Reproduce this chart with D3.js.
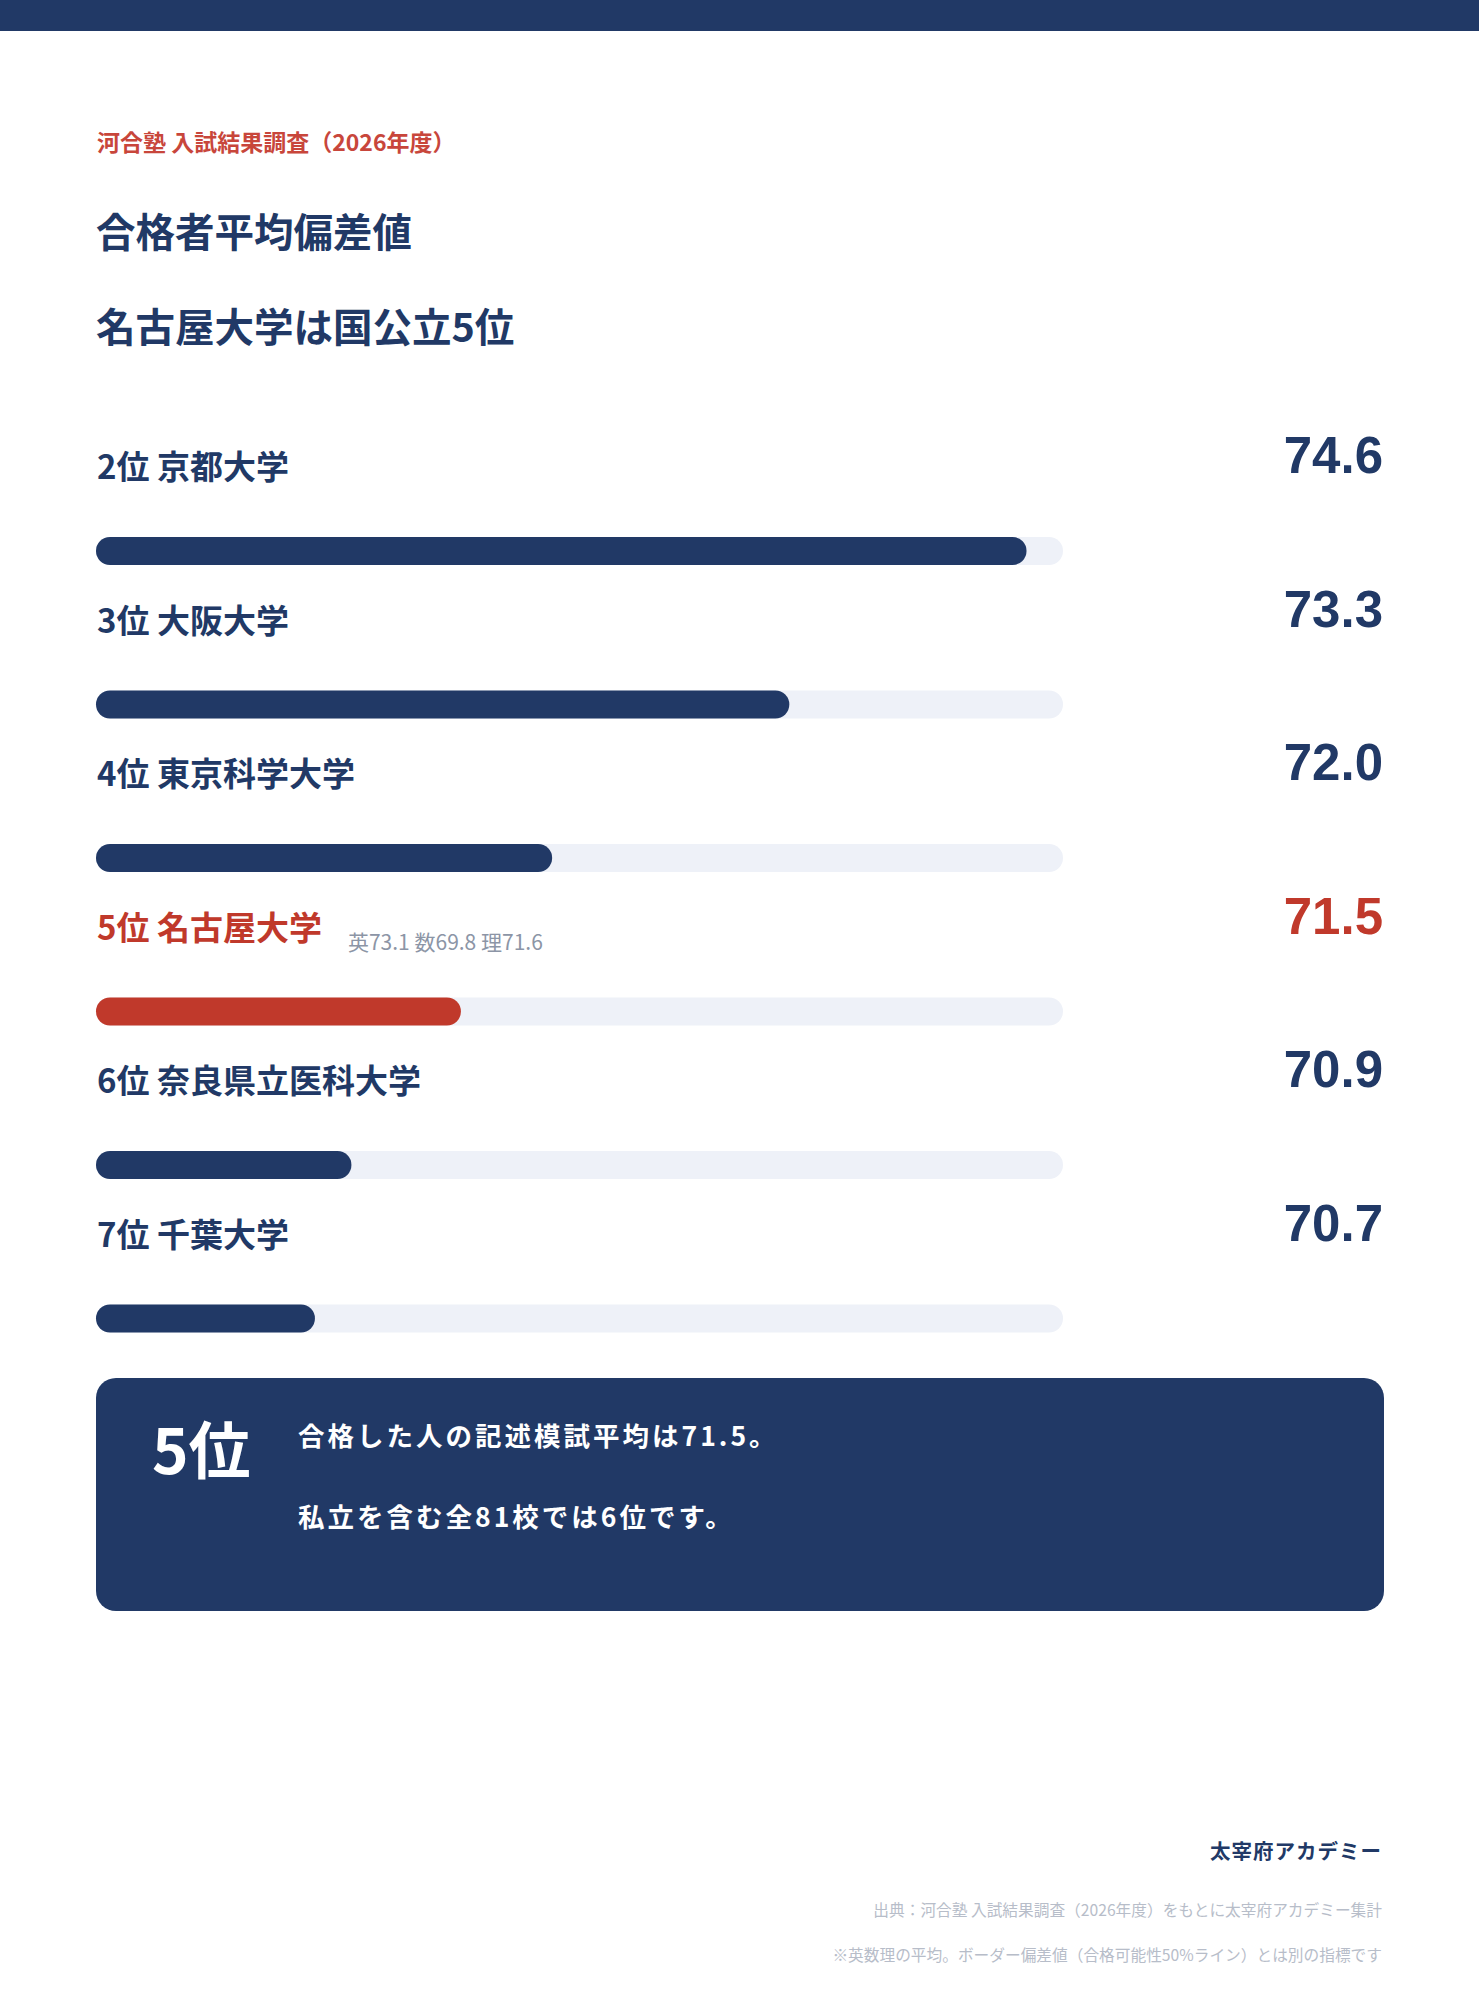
<!DOCTYPE html>
<html lang="ja">
<head>
<meta charset="utf-8">
<script src="https://cdn.jsdelivr.net/npm/d3@7"></script>
<style>
  html, body { margin: 0; padding: 0; background: #ffffff; }
  svg { display: block; }
  text { font-family: "Noto Sans CJK JP", "Noto Sans", sans-serif; }
  text.value { font-family: "Liberation Sans", Arial, sans-serif; }
</style>
</head>
<body>
<div id="chart"></div>
<script>
// ---- data ----
const ranks = [2, 3, 4, 5, 6, 7];
const universities = ["京都大学", "大阪大学", "東京科学大学", "名古屋大学", "奈良県立医科大学", "千葉大学"];
const scores = [74.6, 73.3, 72.0, 71.5, 70.9, 70.7];
const highlightUniversity = "名古屋大学";
const subjectNames = ["英", "数", "理"];
const subjectScores = [73.1, 69.8, 71.6];
const scoreDomain = [69.5, 74.8];

const sourceLabel = "河合塾 入試結果調査（2026年度）";
const titleLines = ["合格者平均偏差値", "名古屋大学は国公立5位"];
const calloutRank = "5位";
const calloutLines = ["合格した人の記述模試平均は71.5。", "私立を含む全81校では6位です。"];
const brandName = "太宰府アカデミー";
const footnotes = [
  "出典：河合塾 入試結果調査（2026年度）をもとに太宰府アカデミー集計",
  "※英数理の平均。ボーダー偏差値（合格可能性50%ライン）とは別の指標です"
];

// ---- style ----
const W = 1479, H = 2000;
const NAVY = "#213966";
const RED = "#c0392b";
const TRACK = "#eef1f8";
const left = 96, right = 1384;
const trackW = 967, barH = 28;

const rows = universities.map((u, i) => ({ rank: ranks[i], name: u, score: scores[i] }));

const svg = d3.select("#chart").append("svg")
  .attr("width", W).attr("height", H).attr("viewBox", `0 0 ${W} ${H}`);

svg.append("rect").attr("width", W).attr("height", H).attr("fill", "#fff");
svg.append("rect").attr("x", 0).attr("y", 0).attr("width", W).attr("height", 31).attr("fill", NAVY);

// header
svg.append("text").attr("x", 97).attr("y", 151)
  .attr("fill", "#c8463b").attr("font-size", 23).attr("font-weight", 700)
  .text(sourceLabel);
svg.selectAll("text.title").data(titleLines).join("text").attr("class", "title")
  .attr("x", 96).attr("y", (d, i) => 247 + i * 95)
  .attr("fill", NAVY).attr("font-size", 39.5).attr("font-weight", 700)
  .text(d => d);

// scales
const x = d3.scaleLinear().domain(scoreDomain).range([0, trackW]);
const y = d3.scalePoint().domain(universities).range([0, 153.5 * (universities.length - 1)]);
const fmt = d3.format(".1f");

const g = svg.selectAll("g.row").data(rows).join("g").attr("class", "row")
  .attr("transform", d => `translate(0,${y(d.name)})`);

const colorOf = d => d.name === highlightUniversity ? RED : NAVY;

g.append("text").attr("class", "label")
  .attr("x", 97).attr("y", 479)
  .attr("fill", colorOf).attr("font-size", 33).attr("font-weight", 700)
  .text(d => `${d.rank}位 ${d.name}`);

g.append("text").attr("class", "value").attr("x", 1383).attr("y", 473)
  .attr("text-anchor", "end")
  .attr("fill", colorOf).attr("font-size", 51).attr("font-weight", 700)
  .text(d => fmt(d.score));

g.append("rect").attr("x", left).attr("y", 537).attr("width", trackW).attr("height", barH)
  .attr("rx", barH / 2).attr("fill", TRACK);
g.append("rect").attr("x", left).attr("y", 537).attr("width", d => x(d.score)).attr("height", barH)
  .attr("rx", barH / 2).attr("fill", colorOf);

// subject breakdown for highlighted row
g.filter(d => d.name === highlightUniversity).each(function () {
  const grp = d3.select(this);
  const lw = grp.select("text.label").node().getComputedTextLength();
  grp.append("text").attr("x", 97 + lw + 26).attr("y", 489)
    .attr("fill", "#8c95a6").attr("font-size", 21)
    .text(subjectNames.map((s, i) => s + fmt(subjectScores[i])).join(" "));
});

// callout box
svg.append("rect").attr("x", 96).attr("y", 1378).attr("width", right - 96).attr("height", 233)
  .attr("rx", 20).attr("fill", NAVY);
svg.append("text").attr("x", 152).attr("y", 1474)
  .attr("fill", "#fff").attr("font-size", 62).attr("font-weight", 700)
  .text(calloutRank);
svg.selectAll("text.callout").data(calloutLines).join("text").attr("class", "callout")
  .attr("x", 298).attr("y", (d, i) => 1446 + i * 81)
  .attr("fill", "#fff").attr("font-size", 26.5).attr("font-weight", 700)
  .attr("letter-spacing", 3)
  .text(d => d);

// footer
svg.append("text").attr("x", 1382).attr("y", 1859).attr("text-anchor", "end")
  .attr("fill", NAVY).attr("font-size", 20.5).attr("font-weight", 700).attr("letter-spacing", 1)
  .text(brandName);
svg.selectAll("text.foot").data(footnotes).join("text").attr("class", "foot")
  .attr("x", 1382).attr("y", (d, i) => 1916 + i * 45).attr("text-anchor", "end")
  .attr("fill", "#b7bdc9").attr("font-size", 15.7)
  .text(d => d);
</script>
</body>
</html>
